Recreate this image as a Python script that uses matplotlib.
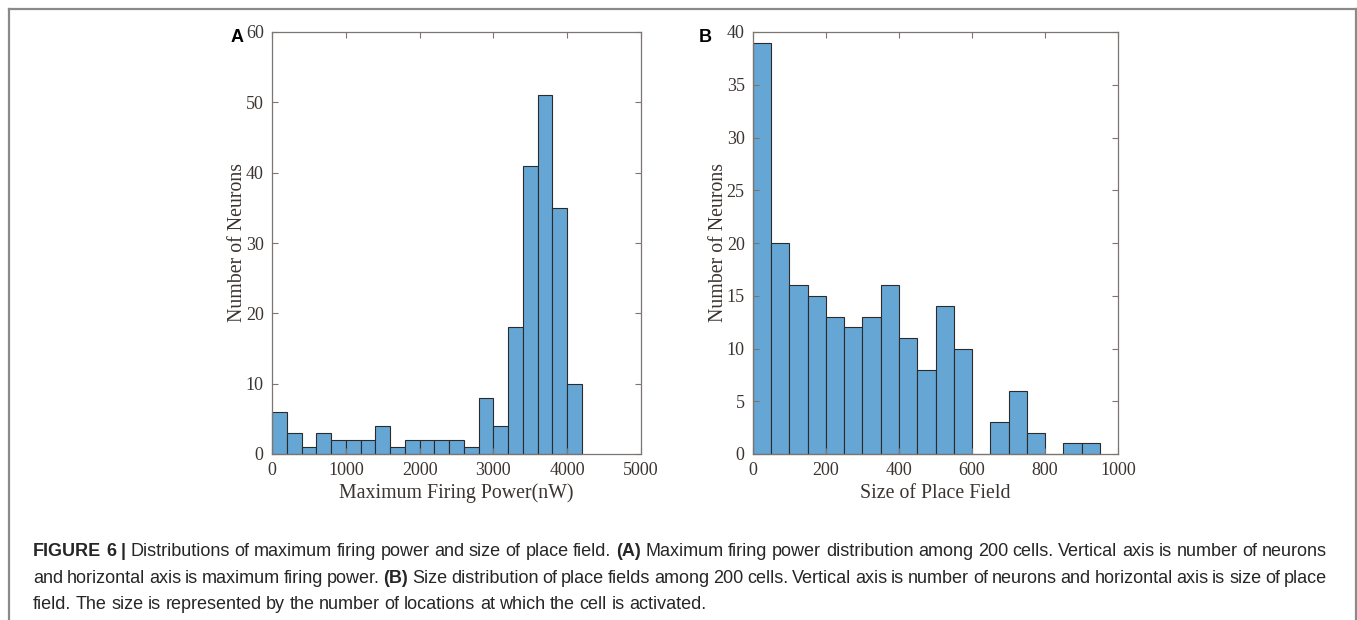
import numpy as np
import matplotlib
matplotlib.use("Agg")
import matplotlib.pyplot as plt
from matplotlib.lines import Line2D

# Histogram counts
power_edges = np.arange(0, 4201, 200)
power_counts = [6, 3, 1, 3, 2, 2, 2, 4, 1, 2, 2, 2, 2, 1, 8, 4, 18, 41, 51, 35, 10]

field_edges = np.arange(0, 951, 50)
field_counts = [39, 20, 16, 15, 13, 12, 13, 16, 11, 8, 14, 10, 0, 3, 6, 2, 0, 1, 1]

power_xticks = [0, 1000, 2000, 3000, 4000, 5000]
power_yticks = [0, 10, 20, 30, 40, 50, 60]
field_xticks = [0, 200, 400, 600, 800, 1000]
field_yticks = [0, 5, 10, 15, 20, 25, 30, 35, 40]

BAR = "#66a6d5"
SPINE = "#7d7572"
TICKTXT = "#3b3431"
SERIF = ["Liberation Serif", "DejaVu Serif"]

W, H = 1357, 620
fig = plt.figure(figsize=(W / 100, H / 100), dpi=100)


def panel(rect, edges, counts, xticks, yticks, xlabel):
    ax = fig.add_axes(rect)
    edges = np.asarray(edges)
    ax.bar(edges[:-1], counts, width=np.diff(edges), align="edge",
           color=BAR, edgecolor="#2b2b2b", linewidth=0.8, clip_on=False)
    ax.set_xlim(xticks[0], xticks[-1])
    ax.set_ylim(yticks[0], yticks[-1])
    ax.set_xticks(xticks)
    ax.set_yticks(yticks)
    ax.tick_params(direction="in", length=4, width=0.8, color=SPINE,
                   top=True, right=True, labelsize=13, labelcolor=TICKTXT,
                   pad=6)
    for lab in ax.get_xticklabels() + ax.get_yticklabels():
        lab.set_family(SERIF)
    for s in ax.spines.values():
        s.set_color(SPINE)
        s.set_linewidth(0.9)
    ax.set_xlabel(xlabel, family=SERIF, fontsize=14.3, color=TICKTXT, labelpad=3)
    ax.set_ylabel("Number of Neurons", family=SERIF, fontsize=14.3,
                  color=TICKTXT, labelpad=-1)
    return ax


axA = panel([272 / W, 1 - 454 / H, 369 / W, 422 / H], power_edges,
            power_counts, power_xticks, power_yticks,
            "Maximum Firing Power(nW)")
axB = panel([753 / W, 1 - 454 / H, 365 / W, 422 / H], field_edges,
            field_counts, field_xticks, field_yticks, "Size of Place Field")

fig.text(237 / W, 1 - 38 / H, "A", family="Liberation Sans", weight="bold",
         fontsize=13, ha="center", va="center", color="black")
fig.text(705 / W, 1 - 37 / H, "B", family="Liberation Sans", weight="bold",
         fontsize=13, ha="center", va="center", color="black")

# Frame around the figure
frame = dict(color="#8a8a8a", linewidth=1.6, transform=fig.transFigure)
fig.add_artist(Line2D([8.5 / W, 8.5 / W], [0, 1 - 9 / H], **frame))
fig.add_artist(Line2D([8.5 / W, 1355.5 / W], [1 - 9 / H, 1 - 9 / H], **frame))
fig.add_artist(Line2D([1355.5 / W, 1355.5 / W], [0, 1 - 9 / H], **frame))

# Caption, set as justified lines of bold / regular runs
caption_lines = [
    [("FIGURE 6 |", "bold"),
     ("Distributions of maximum firing power and size of place field.", "normal"),
     ("(A)", "bold"),
     ("Maximum firing power distribution among 200 cells. Vertical axis is number of neurons", "normal")],
    [("and horizontal axis is maximum firing power.", "normal"),
     ("(B)", "bold"),
     ("Size distribution of place fields among 200 cells. Vertical axis is number of neurons and horizontal axis is size of place", "normal")],
    [("field. The size is represented by the number of locations at which the cell is activated.", "normal")],
]
CAP_X0, CAP_X1 = 33, 1327
CAP_BASE = [556, 583, 609]
CAP_FS = 13.0
CAP_COLOR = "#262626"
CAP_FAMILY = "Liberation Sans"

renderer = fig.canvas.get_renderer()
for li, runs in enumerate(caption_lines):
    words = []
    for txt, wt in runs:
        for w in txt.split(" "):
            if w:
                words.append((w, wt))
    arts = []
    widths = []
    for w, wt in words:
        t = fig.text(0, 1 - CAP_BASE[li] / H, w, family=CAP_FAMILY,
                     weight=wt, fontsize=CAP_FS, color=CAP_COLOR,
                     ha="left", va="baseline")
        arts.append(t)
        widths.append(t.get_window_extent(renderer).width)
    total = sum(widths)
    nat_space = CAP_FS * 100 / 72 * 0.25
    if li < len(caption_lines) - 1:
        gap = (CAP_X1 - CAP_X0 - total) / (len(words) - 1)
    else:
        gap = nat_space
    x = CAP_X0
    for t, wd in zip(arts, widths):
        t.set_x(x / W)
        x += wd + gap

fig.savefig("out.png", dpi=100, facecolor="white")
